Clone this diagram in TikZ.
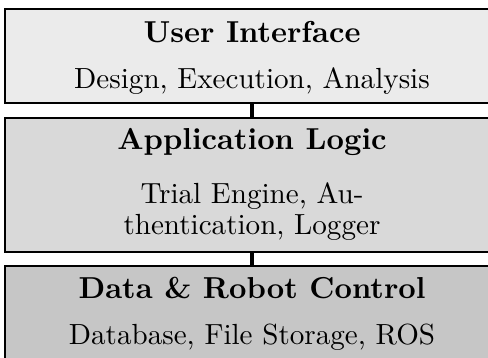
\documentclass[tikz,border=0pt]{standalone}
\definecolor{uifill}{HTML}{EBEBEB}
\definecolor{appfill}{HTML}{D9D9D9}
\definecolor{datafill}{HTML}{C6C6C6}
\newcommand{\pxu}{0.34pt}
\tikzset{
  layerbox/.style={draw=black, line width=1.7*\pxu, anchor=north west,
    minimum width=494*\pxu, inner sep=0pt, outer sep=0pt},
  layertitle/.style={anchor=base, inner sep=0pt, font=\fontsize{10.3}{12}\selectfont\bfseries},
  layertext/.style={anchor=base, inner sep=0pt, font=\fontsize{9.9}{12}\selectfont},
  link/.style={line width=4*\pxu, black}
}
\begin{document}
\begin{tikzpicture}[x=\pxu, y=-\pxu]
\useasboundingbox (0,0) rectangle (488,358);
\clip (0,0) rectangle (488,358);
% the three layers
\node[layerbox, fill=uifill, minimum height=94.3*\pxu] (ui) at (5,9) {};
\node[layerbox, fill=appfill, minimum height=134*\pxu] (app) at (5,117.8) {};
\node[layerbox, fill=datafill, minimum height=120*\pxu] (data) at (5,266) {};
% connectors between layers
\draw[link] (ui.south) -- (app.north);
\draw[link] (app.south) -- (data.north);
% labels
\node[layertitle] (uit) at (252,42.7) {User Interface};
\node[layertext] (uib) at (252,88.3) {Design, Execution, Analysis};
\node[layertitle] (appt) at (252,150) {Application Logic};
\node[layertext] (appb1) at (252,204) {Trial Engine, Au-};
\node[layertext] (appb2) at (252,235) {thentication, Logger};
\node[layertitle] (datat) at (252,298.3) {Data \& Robot Control};
\node[layertext] (datab) at (252,345) {Database, File Storage, ROS};
\end{tikzpicture}
\end{document}
